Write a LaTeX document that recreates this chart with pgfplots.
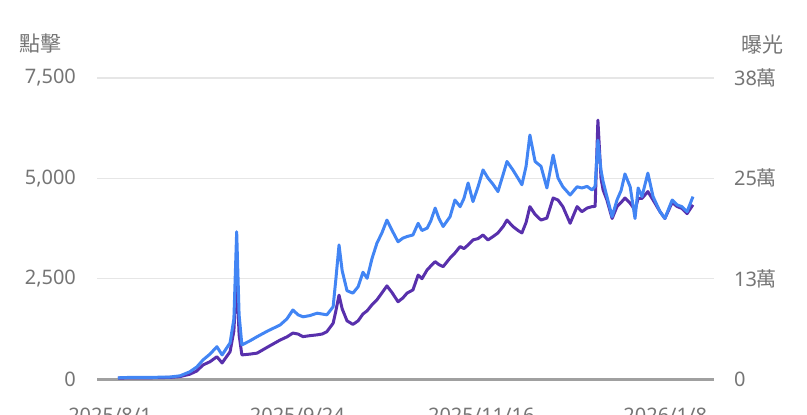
\documentclass[border=0pt]{standalone}
\usepackage{pgfplots}
\pgfplotsset{compat=1.18}
\usepackage{pgfplotstable}
\usepackage{fontspec}
\setmainfont{Noto Sans}
\newfontfamily\cjk{Noto Sans CJK TC}
\definecolor{clk}{RGB}{66,133,244}
\definecolor{imp}{RGB}{88,48,172}
\definecolor{txt}{RGB}{117,117,117}
\definecolor{grd}{RGB}{230,230,230}
\definecolor{base}{RGB}{160,160,160}

\pgfplotstableread{
day clicks
2.3 30
5.8 40
11.5 40
17.3 50
20.2 80
23 180
25 300
26.8 475
28.8 620
30.8 805
32.3 600
34.6 900
35.7 1500
36.5 3670
37.2 1600
38 850
40.3 950
42.4 1055
45.5 1200
49 1345
51 1500
52.7 1720
54.2 1600
55.6 1550
57.6 1580
59.7 1640
61.1 1620
62.5 1600
64.3 1800
65.1 2500
66 3340
66.9 2700
68.3 2200
70 2140
71.5 2300
72.9 2660
74.1 2510
75.5 3000
76.9 3380
78.4 3650
79.8 3960
81.3 3700
83 3420
84.4 3510
85.6 3550
87.3 3590
88.8 3880
89.9 3700
91.4 3760
92.5 3950
93.7 4260
94.8 4000
96 3800
98 4045
99.4 4460
100.9 4295
102 4500
103.2 4885
104.6 4420
106.1 4800
107.5 5210
108.9 5010
110.4 4850
111.8 4670
113.3 5100
114.4 5420
116.1 5210
117.6 5000
118.7 4840
119.9 5300
121 6080
122.5 5420
124.2 5300
125.9 4760
127.7 5580
129.1 5010
130.5 4790
132.6 4585
134.6 4790
136 4760
137.5 4800
138.9 4710
139.8 4800
140.6 5950
141.5 5200
142.1 4920
143.2 4545
144.7 4045
146.1 4460
147.3 4700
148.4 5110
149.9 4790
151.3 4000
152.2 4760
153.3 4545
155 5130
156.5 4545
158.5 4170
159.9 4000
162 4460
163.4 4340
164.8 4295
166.3 4170
168 4545
}\clickdata

\pgfplotstableread{
day impressions
2.3 1000
5.8 1500
11.5 1500
17.3 2000
20.2 3000
23 6000
25 10000
26.8 17500
28.8 21500
30.8 27750
32.3 20000
34.6 34000
35.7 60000
36.5 130000
37.2 55000
38 30000
40.3 31000
42.4 32250
45.5 40000
49 48500
51 52500
52.7 57250
54.2 56000
55.6 52750
57.6 54000
59.7 55000
61.1 56000
62.5 59000
64.3 69500
65.1 85000
66 104500
66.9 87500
68.3 72500
70 68000
71.5 72500
72.9 81000
74.1 85000
75.5 92500
76.9 98500
78.4 107500
79.8 116000
81.3 107500
83 96250
84.4 101000
85.6 107000
87.3 111000
88.8 129500
89.9 125000
91.4 136000
92.5 141000
93.7 146250
94.8 142500
96 140000
98 150750
99.4 157000
100.9 165000
102 162500
103.2 167000
104.6 173250
106.1 175000
107.5 179500
108.9 173250
110.4 177500
111.8 182000
113.3 190000
114.4 198000
116.1 190000
117.6 185000
118.7 182000
119.9 195000
121 214750
122.5 205000
124.2 198000
125.9 200500
127.7 225500
129.1 223000
130.5 214750
132.6 194000
134.6 214750
136 208500
137.5 213000
138.9 214750
139.8 215000
140.6 322500
141.5 250000
142.1 235500
143.2 223000
144.7 200000
146.1 214750
147.3 220000
148.4 225500
149.9 219000
151.3 210500
152.2 225000
153.3 225000
155 233500
156.5 223000
158.5 208500
159.9 200000
162 220000
163.4 215000
164.8 212500
166.3 206000
168 217000
}\imprdata

\begin{document}
\begin{tikzpicture}
\pgfplotsset{
  every axis/.append style={
    scale only axis, width=308.5pt, height=150.5pt,
    xmin=-3.75, xmax=174.06,
    axis line style={draw=none},
    major tick length=0pt,
    scaled y ticks=false, scaled x ticks=false,
    tick label style={font=\fontsize{10}{12}\selectfont, text=txt},
    clip=false,
  }
}
% right axis: impressions (drawn first, with grid and baseline)
\begin{axis}[
  name=ax,
  ymin=0, ymax=375000,
  axis y line*=right,
  axis x line=none,
  ytick={0,125000,250000,375000},
  yticklabels={0,{13\cjk 萬},{25\cjk 萬},{38\cjk 萬}},
  yticklabel style={anchor=west, xshift=6.5pt},
  ymajorgrids, grid style={color=grd, line width=0.6pt},
  extra y ticks={0},
  extra y tick labels={},
  extra y tick style={grid style={color=base, line width=1.5pt}},
]
\addplot[imp, line width=1.5pt, line join=round] table[x=day, y=impressions] {\imprdata};
\end{axis}
% left axis: clicks
\begin{axis}[
  ymin=0, ymax=7500,
  axis y line*=left,
  ytick={0,2500,5000,7500},
  yticklabels={0,{2,500},{5,000},{7,500}},
  yticklabel style={anchor=east, xshift=-7pt},
  xtick={0,54,107,160},
  xticklabels={2025/8/1,2025/9/24,2025/11/16,2026/1/8},
  xticklabel style={anchor=north, yshift=-11pt},
]
\addplot[clk, line width=1.5pt, line join=round] table[x=day, y=clicks] {\clickdata};
\node[font=\cjk\fontsize{10.5}{12}\selectfont, text=txt] at (rel axis cs:-0.091,1.113) {點擊};
\node[font=\cjk\fontsize{10.5}{12}\selectfont, text=txt] at (rel axis cs:1.078,1.11) {曝光};
\end{axis}
\pgfresetboundingbox
\path[use as bounding box] ([xshift=-48.5pt,yshift=-17.5pt]ax.south west) rectangle ([xshift=46.5pt,yshift=39pt]ax.north east);
\end{tikzpicture}
\end{document}
